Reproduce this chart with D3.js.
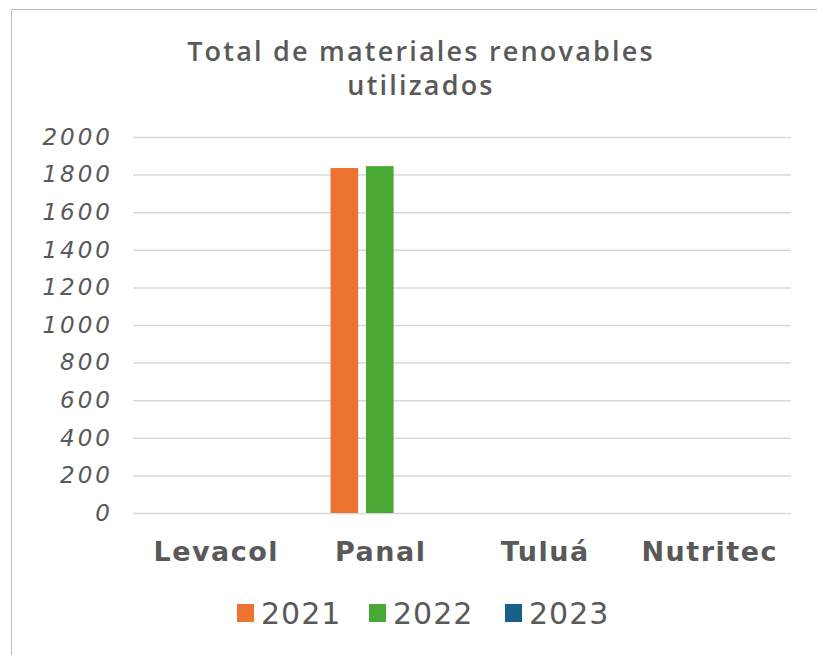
<!DOCTYPE html>
<html>
<head>
<meta charset="utf-8">
<script src="https://cdn.jsdelivr.net/npm/d3@7"></script>
<style>
  body { margin: 0; background: #fff; }
  svg { display: block; }
</style>
</head>
<body>
<div id="chart-area"></div>
<script>
// data
const categories = ['Levacol', 'Panal', 'Tuluá', 'Nutritec']
const years = ['2021', '2022', '2023']
const values2021 = [0, 1835, 0, 0]
const values2022 = [0, 1845, 0, 0]
const values2023 = [0, 0, 0, 0]
const yTicks = [0, 200, 400, 600, 800, 1000, 1200, 1400, 1600, 1800, 2000]
const colors = ['#ED7430', '#4AA834', '#1B5F8C']

const series = [values2021, values2022, values2023]
const rows = categories.map((c, i) => ({
  category: c,
  values: years.map((y, j) => ({ year: y, value: series[j][i], color: colors[j] }))
}))

/* Canvas */
const CANVAS_WIDTH = 817
const CANVAS_HEIGHT = 655
const textColor = '#595959'

const $canvas = d3.select('#chart-area')
  .append('svg')
  .attr('width', CANVAS_WIDTH)
  .attr('height', CANVAS_HEIGHT)

// frame (only top and left edges are visible in the crop)
$canvas.append('path')
  .attr('d', `M11.5,${CANVAS_HEIGHT} V9.5 H${CANVAS_WIDTH}`)
  .attr('fill', 'none')
  .attr('stroke', '#bfbfbf')
  .attr('stroke-width', 1)

/* Title */
const $title = $canvas.append('text')
  .attr('x', 421)
  .attr('y', 61)
  .attr('text-anchor', 'middle')
  .attr('font-family', 'Open Sans, sans-serif')
  .attr('font-weight', 600)
  .attr('font-size', 27)
  .attr('letter-spacing', 2.2)
  .attr('fill', textColor)
$title.append('tspan').attr('x', 421).attr('dy', 0).text('Total de materiales renovables')
$title.append('tspan').attr('x', 421).attr('dy', 34).text('utilizados')

/* Scales */
const plot = { left: 133, right: 791, top: 137, bottom: 513 }

const scaleX = d3.scaleBand()
  .domain(categories)
  .range([plot.left, plot.right])
  .padding(0)

const scaleSeries = d3.scaleBand()
  .domain(years)
  .range([33, scaleX.bandwidth() - 33])
  .paddingInner(0.22)

const scaleY = d3.scaleLinear()
  .domain([0, 2000])
  .range([plot.bottom, plot.top])

/* Gridlines + y labels */
const yAxis = d3.axisLeft(scaleY)
  .tickValues(yTicks)
  .tickSize(-(plot.right - plot.left))
  .tickPadding(20)
  .tickFormat(d3.format('d'))

const $yAxis = $canvas.append('g')
  .attr('transform', `translate(${plot.left}, 0)`)
  .call(yAxis)
$yAxis.select('.domain').remove()
$yAxis.selectAll('.tick line')
  .attr('stroke', '#d9d9d9')
  .attr('stroke-width', 1.5)
$yAxis.selectAll('.tick text')
  .attr('font-family', 'DejaVu Sans, sans-serif')
  .attr('font-style', 'italic')
  .attr('font-size', 23)
  .attr('letter-spacing', 3)
  .attr('fill', textColor)

/* Bars */
const $groups = $canvas.selectAll('g.cat')
  .data(rows)
  .enter().append('g')
  .attr('class', 'cat')
  .attr('transform', d => `translate(${scaleX(d.category)}, 0)`)

$groups.selectAll('rect')
  .data(d => d.values)
  .enter().append('rect')
  .attr('x', d => scaleSeries(d.year))
  .attr('y', d => scaleY(d.value))
  .attr('width', scaleSeries.bandwidth())
  .attr('height', d => scaleY(0) - scaleY(d.value))
  .attr('fill', d => d.color)

/* x labels */
const xAxis = d3.axisBottom(scaleX).tickSize(0).tickPadding(29)
const $xAxis = $canvas.append('g')
  .attr('transform', `translate(0, ${plot.bottom})`)
  .call(xAxis)
$xAxis.select('.domain').remove()
$xAxis.selectAll('.tick text')
  .attr('font-family', 'DejaVu Sans, sans-serif')
  .attr('font-weight', 'bold')
  .attr('font-size', 27)
  .attr('letter-spacing', 1.5)
  .attr('dx', 1)
  .attr('fill', textColor)

/* Legend */
const legendX = [237, 369, 505]
const $legend = $canvas.selectAll('g.legend')
  .data(years)
  .enter().append('g')
  .attr('class', 'legend')
  .attr('transform', (d, i) => `translate(${legendX[i]}, 604)`)

$legend.append('rect')
  .attr('width', 17)
  .attr('height', 18)
  .attr('fill', (d, i) => colors[i])

$legend.append('text')
  .attr('x', 24)
  .attr('y', 20)
  .attr('font-family', 'DejaVu Sans, sans-serif')
  .attr('font-size', 30)
  .attr('letter-spacing', 1)
  .attr('fill', textColor)
  .text(d => d)
</script>
</body>
</html>
